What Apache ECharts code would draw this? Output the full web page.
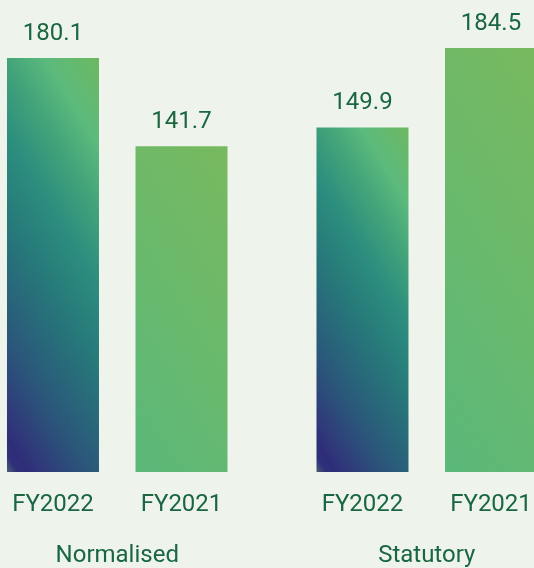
<!DOCTYPE html>
<html>
<head>
<meta charset="utf-8">
<script src="https://cdn.jsdelivr.net/npm/echarts@6/dist/echarts.min.js"></script>
<style>
  html, body { margin: 0; padding: 0; background: #eef4ec; }
  #chart { width: 534px; height: 568px; }
</style>
</head>
<body>
<div id="chart"></div>
<script>
// 数据
var groups = ['Normalised', 'Statutory'];
var years = ['FY2022', 'FY2021'];
var fy2022 = [180.1, 149.9];
var fy2021 = [141.7, 184.5];

var textColor = '#1a6640';
var yMax = 200;
var gridTop = 12.3;
var gridBottom = 96;
var barWidth = 92;

var myChart = echarts.init(document.getElementById('chart'));
var pxPerUnit = (568 - gridTop - gridBottom) / yMax;

// 斜向渐变（像素空间角度），从左下角到右上角
function diag(value, stops, deg) {
    var w = barWidth, h = value * pxPerUnit;
    var c = Math.cos(deg * Math.PI / 180), s = Math.sin(deg * Math.PI / 180);
    var L = w * c + h * s;
    return new echarts.graphic.LinearGradient(0, 1, L * c / w, (h - L * s) / h, stops);
}

var darkStops = [
    { offset: 0, color: '#4a6470' },
    { offset: 0.03, color: '#30307a' },
    { offset: 0.065, color: '#2e2e78' },
    { offset: 0.105, color: '#30387a' },
    { offset: 0.224, color: '#2b547a' },
    { offset: 0.343, color: '#28687a' },
    { offset: 0.458, color: '#277a7a' },
    { offset: 0.6, color: '#2c8e7e' },
    { offset: 0.727, color: '#42a37a' },
    { offset: 0.845, color: '#5cba7c' },
    { offset: 1, color: '#6cb860' }
];
var greenStops = [
    { offset: 0, color: '#5ab87a' },
    { offset: 1, color: '#78b95e' }
];

var labelFont = { fontFamily: 'Roboto', fontSize: 24, color: textColor };

function valueSeries(name, stack, values, stops) {
    return {
        name: name,
        type: 'bar',
        stack: stack,
        barWidth: barWidth,
        barGap: '39.7%',
        data: values.map(function (v) {
            return { value: v, itemStyle: { color: diag(v, stops, 31.5) } };
        }),
        label: Object.assign({
            show: true,
            position: 'top',
            distance: 12,
            formatter: function (p) { return p.value.toFixed(1); }
        }, labelFont)
    };
}

// 零高度柱子，只用来在底部显示年份
function yearSeries(name, stack) {
    return {
        name: name + '-label',
        type: 'bar',
        stack: stack,
        barWidth: barWidth,
        barGap: '39.7%',
        data: groups.map(function () { return 0; }),
        itemStyle: { color: 'transparent' },
        label: Object.assign({
            show: true,
            position: 'bottom',
            distance: 21,
            formatter: name
        }, labelFont)
    };
}

var option = {
    backgroundColor: '#eef4ec',
    animation: false,
    grid: {
        left: -37.5,
        right: -47.5,
        top: gridTop,
        bottom: gridBottom,
        outerBoundsMode: 'none',
        containLabel: false
    },
    xAxis: {
        type: 'category',
        data: groups,
        axisLine: { show: false },
        axisTick: { show: false },
        axisLabel: Object.assign({ margin: 72 }, labelFont)
    },
    yAxis: {
        type: 'value',
        min: 0,
        max: yMax,
        show: false
    },
    series: [
        yearSeries(years[0], 'a'),
        valueSeries(years[0], 'a', fy2022, darkStops),
        yearSeries(years[1], 'b'),
        valueSeries(years[1], 'b', fy2021, greenStops)
    ]
};

myChart.setOption(option);
</script>
</body>
</html>
